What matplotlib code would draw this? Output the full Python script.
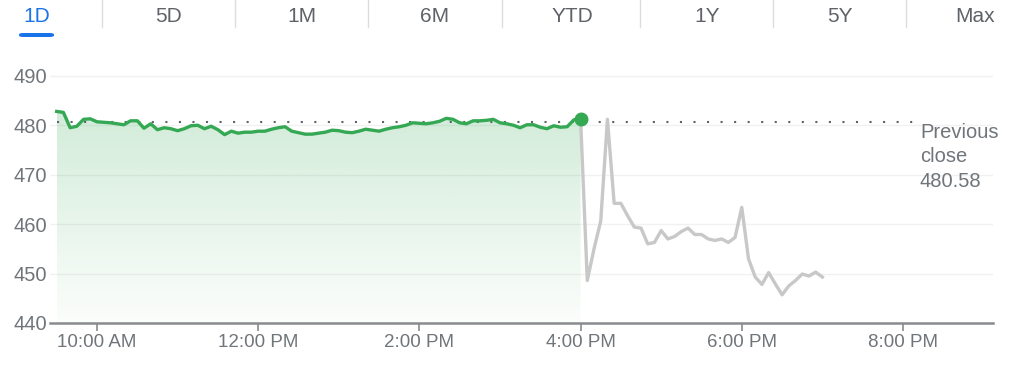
import matplotlib.pyplot as plt
import numpy as np
from matplotlib.patches import Polygon, FancyBboxPatch

plt.rcParams['font.family'] = ['Liberation Sans', 'DejaVu Sans']

tabs = ['1D', '5D', '1M', '6M', 'YTD', '1Y', '5Y', 'Max']
tab_x = [37, 169, 302, 435, 572, 707, 840, 975]
sep_x = [102, 235, 368, 502, 640, 773, 906]

prev_close = 480.58

# regular session, 9:30 - 16:00, every 5 min
day_prices = [482.8, 482.6, 479.5, 479.8, 481.2, 481.3, 480.7, 480.6, 480.5, 480.3,
              480.1, 480.9, 480.9, 479.4, 480.3, 479.1, 479.5, 479.3, 478.9, 479.3,
              479.9, 480.0, 479.3, 479.8, 479.1, 478.1, 478.8, 478.4, 478.6, 478.6,
              478.8, 478.8, 479.2, 479.5, 479.7, 478.8, 478.5, 478.2, 478.2, 478.4,
              478.6, 479.0, 478.9, 478.6, 478.5, 478.8, 479.2, 479.0, 478.8, 479.2,
              479.5, 479.7, 480.0, 480.5, 480.4, 480.3, 480.5, 480.8, 481.4, 481.2,
              480.5, 480.3, 480.9, 480.9, 481.0, 481.2, 480.5, 480.3, 480.0, 479.5,
              480.1, 480.1, 479.6, 479.3, 479.9, 479.6, 479.7, 481.1, 481.3]

# after hours, 16:00 - 19:00, every 5 min
ah_prices = [481.3, 448.6, 455.0, 460.6, 481.2, 464.2, 464.2, 461.7, 459.4, 459.2,
             456.0, 456.3, 458.7, 457.0, 457.5, 458.5, 459.2, 457.9, 457.9, 457.0,
             456.7, 457.0, 456.3, 457.3, 463.4, 453.0, 449.3, 447.8, 450.2, 447.9,
             445.7, 447.5, 448.6, 449.9, 449.5, 450.3, 449.3]

xticks = [10, 12, 14, 16, 18, 20]
xlabels = ['10:00 AM', '12:00 PM', '2:00 PM', '4:00 PM', '6:00 PM', '8:00 PM']
yticks = [440, 450, 460, 470, 480, 490]

day_t = 9.5 + np.arange(len(day_prices)) * 5 / 60
ah_t = 16 + np.arange(len(ah_prices)) * 5 / 60

W, H = 1025, 365
fig = plt.figure(figsize=(W / 100, H / 100), dpi=100)

# tab bar
for label, x in zip(tabs, tab_x):
    fig.text(x / W, 1 - 16 / H, label, ha='center', va='center', fontsize=15,
             color='#1a73e8' if label == '1D' else '#5f6368')
for x in sep_x:
    fig.add_artist(plt.Line2D([x / W, x / W], [1 - 27 / H, 1], color='#dadce0', lw=1))
fig.add_artist(FancyBboxPatch((19 / W, 1 - 37 / H), 35 / W, 4 / H,
                              boxstyle='round,pad=0,rounding_size=0.004',
                              transform=fig.transFigure, color='#1a73e8', lw=0))

# chart
ax = fig.add_axes([50 / W, (H - 323) / H, 943 / W, 263 / H])
ax.set_xlim(9.417, 21.117)
ax.set_ylim(440, 493.2)

for y in yticks[1:]:
    ax.axhline(y, color='#f1f1f1', lw=1, zorder=0)

# gradient fill under the session line
verts = [(day_t[0], 440)] + list(zip(day_t, day_prices)) + [(day_t[-1], 440)]
poly = Polygon(verts, closed=True, facecolor='none', edgecolor='none')
ax.add_patch(poly)
grad = np.zeros((100, 1, 4))
grad[:, 0, 0] = 52 / 255
grad[:, 0, 1] = 168 / 255
grad[:, 0, 2] = 83 / 255
grad[:, 0, 3] = np.linspace(0.02, 0.22, 100)
im = ax.imshow(grad, aspect='auto', extent=[day_t[0], day_t[-1], 440, max(day_prices)],
               origin='lower', zorder=1)
im.set_clip_path(poly)

ax.plot([9.5, 20.15], [prev_close, prev_close], color='#5f6368', lw=1.5,
        linestyle=(0, (1, 5.5)), zorder=2)
ax.plot(ah_t, ah_prices, color='#c8c8c8', lw=2.4, zorder=3, solid_joinstyle='round')
ax.plot(day_t, day_prices, color='#34a853', lw=2.4, zorder=4, solid_joinstyle='round')
ax.plot(day_t[-1], day_prices[-1], 'o', color='#34a853', ms=9, zorder=5)

fig.text(920 / W, 1 - 157 / H, 'Previous\nclose\n480.58', ha='left', va='center',
         fontsize=14.5, color='#70757a', linespacing=1.38)

for s in ['top', 'right', 'left']:
    ax.spines[s].set_visible(False)
ax.spines['bottom'].set_color('#888a8d')
ax.spines['bottom'].set_linewidth(1.8)

ax.set_xticks(xticks)
ax.set_xticklabels(xlabels)
ax.set_yticks(yticks)
ax.tick_params(axis='x', length=6, width=1.2, color='#888a8d', labelsize=13.5,
               labelcolor='#70757a', pad=2)
ax.tick_params(axis='y', length=0, labelsize=14.5, labelcolor='#70757a', pad=2)

fig.savefig('out.png', dpi=100)
